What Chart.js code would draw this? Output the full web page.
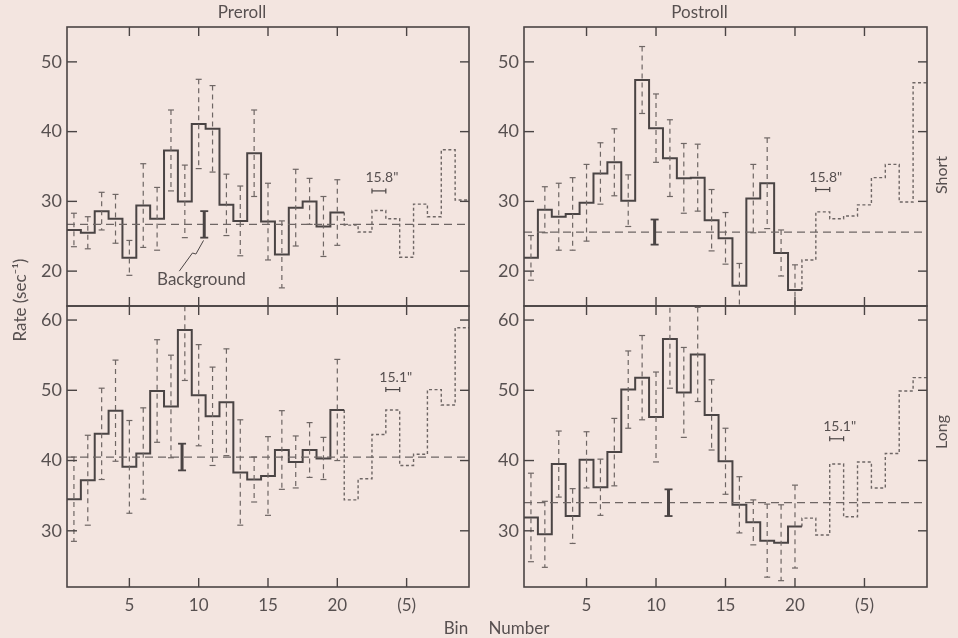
<!DOCTYPE html>
<html>
<head>
<meta charset="utf-8">
<script src="https://cdn.jsdelivr.net/npm/chart.js@4.4.1/dist/chart.umd.min.js"></script>
<style>
  body { margin: 0; background: #f3e5e0; }
  #wrap { position: relative; width: 958px; height: 638px; }
  #wrap canvas { position: absolute; left: 0; top: 0; }
</style>
</head>
<body>
<div id="wrap">
  <canvas id="preShort" width="958" height="638"></canvas>
  <canvas id="postShort" width="958" height="638"></canvas>
  <canvas id="preLong" width="958" height="638"></canvas>
  <canvas id="postLong" width="958" height="638"></canvas>
</div>
<script>
// axis ticks
var xTicks = [5, 10, 15, 20, 25];
var xTickLabels = ['5', '10', '15', '20', '(5)'];
var yTicksShort = [20, 30, 40, 50];
var yTicksLong = [30, 40, 50, 60];

// Preroll / Short : bins 1-20, then bins 21-29 (dotted, next cycle)
var preShortRate = [25.9, 25.5, 28.6, 27.5, 21.9, 29.4, 27.5, 37.3, 30.0, 41.1, 40.4, 29.5, 27.2, 36.9, 27.1, 22.4, 29.1, 30.0, 26.4, 28.4];
var preShortErr = [2.4, 2.3, 2.7, 3.5, 2.5, 6.0, 4.5, 5.8, 5.2, 6.4, 6.2, 4.4, 5.0, 6.2, 5.5, 4.8, 5.5, 3.3, 4.3, 4.7];
var preShortNext = [26.6, 25.6, 28.7, 27.5, 22.0, 29.6, 27.8, 37.4, 30.2];
var preShortBg = 26.7;

// Postroll / Short
var postShortRate = [21.9, 28.8, 27.8, 28.2, 29.8, 34.0, 35.6, 30.1, 47.4, 40.5, 36.2, 33.3, 33.4, 27.3, 24.7, 17.9, 30.4, 32.6, 22.6, 17.3];
var postShortErr = [3.2, 3.3, 4.8, 5.2, 5.5, 4.4, 4.8, 3.7, 4.8, 4.9, 5.5, 5.0, 4.8, 4.4, 3.7, 3.2, 4.9, 6.5, 3.3, 3.6];
var postShortNext = [21.6, 28.5, 27.5, 27.9, 29.5, 33.4, 35.3, 29.9, 47.0];
var postShortBg = 25.6;

// Preroll / Long
var preLongRate = [34.5, 37.2, 43.8, 47.1, 39.1, 41.0, 49.9, 47.7, 58.6, 49.3, 46.3, 48.3, 38.3, 37.3, 37.8, 41.5, 39.8, 41.5, 40.3, 47.2];
var preLongErr = [6.0, 6.4, 6.5, 7.2, 6.6, 6.5, 7.3, 7.3, 7.2, 7.2, 7.0, 7.6, 7.5, 3.2, 5.6, 5.6, 3.7, 3.9, 3.0, 7.2];
var preLongNext = [34.4, 37.4, 43.7, 47.2, 39.3, 40.9, 50.1, 47.9, 58.9];
var preLongBg = 40.5;

// Postroll / Long
var postLongRate = [31.9, 29.5, 39.5, 32.1, 40.1, 36.2, 41.2, 50.1, 51.8, 46.2, 57.3, 49.7, 55.1, 46.5, 39.9, 33.7, 31.2, 28.6, 28.3, 30.6];
var postLongErr = [6.3, 4.7, 4.7, 3.9, 4.0, 4.0, 4.8, 5.5, 6.0, 6.4, 7.0, 6.4, 6.7, 5.0, 4.7, 4.0, 3.2, 5.2, 5.4, 5.9];
var postLongNext = [31.8, 29.4, 39.5, 32.0, 39.8, 36.1, 41.0, 49.9, 51.8];
var postLongBg = 34.0;

var INK = '#4a4444';
var INK_LIGHT = '#6e6664';
var Y_AXIS_W = 52;
var X_AXIS_H = 40;
Chart.defaults.font.family = 'Lato, "Open Sans", sans-serif';
Chart.defaults.color = '#575050';

function seg(ctx, x1, y1, x2, y2) {
  ctx.beginPath(); ctx.moveTo(x1, y1); ctx.lineTo(x2, y2); ctx.stroke();
}

// error bars, background bar, frame with inward ticks, period marker
var panelDecor = {
  id: 'panelDecor',
  afterDatasetsDraw: function (chart, args, o) {
    var ctx = chart.ctx, xs = chart.scales.x, ys = chart.scales.y, a = chart.chartArea;
    ctx.save();
    ctx.beginPath();
    ctx.rect(a.left, a.top, a.right - a.left, a.bottom - a.top);
    ctx.clip();
    ctx.strokeStyle = INK_LIGHT;
    ctx.lineWidth = 1.2;
    o.rate.forEach(function (v, i) {
      var x = xs.getPixelForValue(i + 1);
      var hi = ys.getPixelForValue(v + o.err[i]);
      var lo = ys.getPixelForValue(v - o.err[i]);
      ctx.setLineDash([5, 4]);
      seg(ctx, x, hi, x, lo);
      ctx.setLineDash([]);
      seg(ctx, x - 3, hi, x + 3, hi);
      seg(ctx, x - 3, lo, x + 3, lo);
    });
    // background level uncertainty
    ctx.strokeStyle = INK;
    var bx = xs.getPixelForValue(o.bgBin);
    var bt = ys.getPixelForValue(o.bg + o.bgErr), bb = ys.getPixelForValue(o.bg - o.bgErr);
    ctx.lineWidth = 3;
    seg(ctx, bx, bt, bx, bb);
    ctx.lineWidth = 1.8;
    seg(ctx, bx - 4, bt, bx + 4, bt);
    seg(ctx, bx - 4, bb, bx + 4, bb);
    ctx.restore();

    // frame
    ctx.save();
    ctx.strokeStyle = INK;
    ctx.lineWidth = 1.6;
    ctx.strokeRect(a.left, a.top, a.right - a.left, a.bottom - a.top);
    ctx.lineWidth = 1.4;
    ys.ticks.forEach(function (t) {
      var y = ys.getPixelForValue(t.value);
      seg(ctx, a.left, y, a.left + 10, y);
      seg(ctx, a.right - 9, y, a.right, y);
    });
    xs.ticks.forEach(function (t) {
      var x = xs.getPixelForValue(t.value);
      seg(ctx, x, a.bottom, x, a.bottom - 9);
      seg(ctx, x, a.top, x, a.top + 9);
    });

    // period marker
    var mx1 = xs.getPixelForValue(o.tagBin - 0.5), mx2 = xs.getPixelForValue(o.tagBin + 0.5);
    var my = ys.getPixelForValue(o.markY);
    ctx.lineWidth = 1.2;
    seg(ctx, mx1, my, mx2, my);
    seg(ctx, mx1, my - 2.5, mx1, my + 2.5);
    seg(ctx, mx2, my - 2.5, mx2, my + 2.5);
    ctx.fillStyle = '#575050';
    ctx.font = '14px Lato, sans-serif';
    ctx.textAlign = 'center';
    ctx.textBaseline = 'middle';
    ctx.fillText(o.tag, xs.getPixelForValue(o.tagBin) + 3, ys.getPixelForValue(o.tagY));

    if (o.note) {
      ctx.font = '17px Lato, sans-serif';
      ctx.fillText(o.note.text, xs.getPixelForValue(o.note.bin), ys.getPixelForValue(o.note.y));
      ctx.lineWidth = 1;
      ctx.beginPath();
      o.note.leader.forEach(function (p, k) {
        var px = xs.getPixelForValue(p[0]), py = ys.getPixelForValue(p[1]);
        if (k === 0) ctx.moveTo(px, py); else ctx.lineTo(px, py);
      });
      ctx.stroke();
    }
    ctx.restore();
  }
};

// figure-wide labels
var figureText = {
  id: 'figureText',
  afterDraw: function (chart) {
    var ctx = chart.ctx;
    ctx.save();
    ctx.fillStyle = '#575050';
    ctx.textAlign = 'center';
    ctx.textBaseline = 'middle';
    ctx.font = '17px Lato, sans-serif';
    ctx.fillText('Bin', 456, 629);
    ctx.fillText('Number', 519, 629);
    ctx.save();
    ctx.translate(21, 300);
    ctx.rotate(-Math.PI / 2);
    ctx.fillText('Rate (sec\u207B\u00B9)', 0, 0);
    ctx.restore();
    ctx.font = '16px Lato, sans-serif';
    [['Short', 175], ['Long', 432]].forEach(function (s) {
      ctx.save();
      ctx.translate(942, s[1]);
      ctx.rotate(-Math.PI / 2);
      ctx.fillText(s[0], 0, 0);
      ctx.restore();
    });
    ctx.restore();
  }
};

function makePanel(p) {
  var solid = [];
  p.rate.forEach(function (v, i) {
    solid.push({x: i + 0.5, y: v}, {x: i + 1.5, y: v});
  });
  var dotted = [{x: 20.5, y: p.rate[p.rate.length - 1]}];
  p.next.forEach(function (v, i) {
    dotted.push({x: i + 20.5, y: v}, {x: i + 21.5, y: v});
  });
  var r = p.rect;
  var titleH = 20.4 + 4;
  var xH = p.xLabels ? X_AXIS_H : 0;
  return new Chart(document.getElementById(p.id), {
    type: 'line',
    data: {
      datasets: [{
        data: [{x: 0.5, y: p.bg}, {x: 29.5, y: p.bg}],
        borderColor: INK_LIGHT,
        borderWidth: 1.3,
        borderDash: [8, 5]
      }, {
        data: solid,
        borderColor: INK,
        borderWidth: 2
      }, {
        data: dotted,
        borderColor: INK_LIGHT,
        borderWidth: 1.4,
        borderDash: [3, 2.5]
      }]
    },
    options: {
      responsive: false,
      animation: false,
      events: [],
      elements: { point: { radius: 0 }, line: { tension: 0, fill: false } },
      layout: {
        padding: {
          left: r[0] - Y_AXIS_W,
          right: 958 - r[2],
          top: p.title ? 0 : r[1],
          bottom: 638 - r[3] - xH
        }
      },
      plugins: {
        legend: { display: false },
        tooltip: { enabled: false },
        title: {
          display: !!p.title,
          text: p.title,
          color: '#575050',
          font: { size: 17, weight: 'normal' },
          padding: { top: r[1] - titleH, bottom: 4 }
        },
        panelDecor: p
      },
      scales: {
        x: {
          type: 'linear',
          min: 0.5,
          max: 29.5,
          afterBuildTicks: function (s) { s.ticks = xTicks.map(function (v) { return {value: v}; }); },
          afterFit: function (s) { s.height = xH; },
          grid: { display: false, drawTicks: false },
          border: { display: false },
          ticks: {
            display: p.xLabels,
            padding: 8,
            font: { size: 17 },
            maxRotation: 0,
            autoSkip: false,
            callback: function (v) {
              var k = xTicks.indexOf(v);
              return k < 0 ? '' : xTickLabels[k];
            }
          }
        },
        y: {
          min: p.yMin,
          max: p.yMax,
          afterBuildTicks: function (s) { s.ticks = p.yTicks.map(function (v) { return {value: v}; }); },
          afterFit: function (s) { s.width = Y_AXIS_W; },
          grid: { display: false, drawTicks: false },
          border: { display: false },
          ticks: { padding: 5, font: { size: 18 } }
        }
      }
    },
    plugins: p.figure ? [panelDecor, figureText] : [panelDecor]
  });
}

makePanel({
  id: 'preShort', rect: [67, 27, 469, 306], yMin: 15, yMax: 55, yTicks: yTicksShort,
  title: 'Preroll', xLabels: false,
  rate: preShortRate, err: preShortErr, next: preShortNext, bg: preShortBg,
  bgBin: 10.4, bgErr: 1.9, tag: '15.8"', tagBin: 23, tagY: 33.4, markY: 31.5,
  note: { text: 'Background', bin: 10.2, y: 18.8,
          leader: [[8.6, 20.0], [9.55, 22.6], [9.8, 22.45], [10.35, 24.4]] }
});
makePanel({
  id: 'postShort', rect: [524, 27, 927, 306], yMin: 15, yMax: 55, yTicks: yTicksShort,
  title: 'Postroll', xLabels: false,
  rate: postShortRate, err: postShortErr, next: postShortNext, bg: postShortBg,
  bgBin: 9.9, bgErr: 1.8, tag: '15.8"', tagBin: 22, tagY: 33.4, markY: 31.7
});
makePanel({
  id: 'preLong', rect: [67, 306, 469, 587], yMin: 22, yMax: 62, yTicks: yTicksLong,
  title: '', xLabels: true,
  rate: preLongRate, err: preLongErr, next: preLongNext, bg: preLongBg,
  bgBin: 8.8, bgErr: 1.9, tag: '15.1"', tagBin: 24, tagY: 51.8, markY: 50.1
});
makePanel({
  id: 'postLong', rect: [524, 306, 927, 587], yMin: 22, yMax: 62, yTicks: yTicksLong,
  title: '', xLabels: true, figure: true,
  rate: postLongRate, err: postLongErr, next: postLongNext, bg: postLongBg,
  bgBin: 10.9, bgErr: 1.9, tag: '15.1"', tagBin: 23, tagY: 44.8, markY: 43.1
});
</script>
</body>
</html>
